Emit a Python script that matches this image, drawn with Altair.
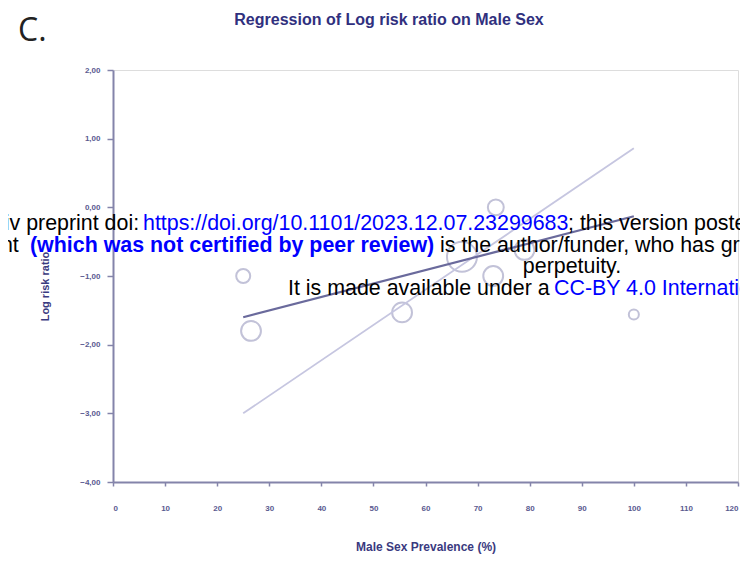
import altair as alt
import pandas as pd

# ---- data ----
male_prev = [25.0, 26.5, 55.5, 67.0, 73.0, 73.5, 79.0, 100.0]
log_rr = [-1.00, -1.80, -1.53, -0.72, -1.00, 0.00, -0.62, -1.56]
study_weight = [3.5, 7.0, 7.0, 16.0, 7.0, 4.5, 7.0, 1.8]

fit_x = [25, 100]
fit_y = [-1.60, -0.13]
band_x = [25, 100]
band_y = [-3.00, 0.86]

x_ticks = list(range(0, 121, 10))
y_ticks = [2.0, 1.5, 1.0, 0.5, 0.0, -0.5, -1.0, -1.5, -2.0, -2.5, -3.0, -3.5, -4.0]

# ---- layout (page pixels) ----
PX0, PY0 = 113, 70
W, H = 625, 412
AX = "#8484aa"
LAB = "#5a5a90"

pts = pd.DataFrame({"male": male_prev, "lrr": log_rr, "w": study_weight})
fit = pd.DataFrame({"male": fit_x, "lrr": fit_y})
band = pd.DataFrame({"male": band_x, "lrr": band_y})

xs = alt.Scale(domain=[0, 120], nice=False, zero=False)
ys = alt.Scale(domain=[-4, 2], nice=False, zero=False)

xaxis = alt.Axis(values=x_ticks, grid=False, labelFontSize=8, labelColor=LAB,
                 labelFontWeight="bold",
                 tickSize=4, tickColor=AX, domainColor=AX, domainWidth=2, tickWidth=1.5,
                 labelPadding=18, title="Male Sex Prevalence (%)", titleFontSize=12,
                 titleFontWeight="bold", titleColor="#3a3a80", titleY=59)
yaxis = alt.Axis(values=y_ticks, grid=False, labelFontSize=8, labelColor=LAB,
                 labelFontWeight="bold",
                 labelExpr="replace(format(datum.value, '.2f'), '.', ',')",
                 tickSize=6, tickColor=AX, domainColor=AX, domainWidth=2, tickWidth=1.5,
                 labelPadding=7, title="Log risk ratio", titleFontSize=11,
                 titleFontWeight="bold", titleColor="#3a3a80", titleX=-63, titleY=216)

circles = alt.Chart(pts).mark_point(shape="circle", filled=False, color="#c2c2d8",
                                    strokeWidth=2, opacity=1).encode(
    x=alt.X("male:Q", scale=xs, axis=xaxis),
    y=alt.Y("lrr:Q", scale=ys, axis=yaxis),
    size=alt.Size("w:Q", scale=alt.Scale(domain=[0, 16], range=[0, 900]), legend=None),
)

band_line = alt.Chart(band).mark_line(color="#c6c6e0", strokeWidth=1.8).encode(
    x=alt.X("male:Q", scale=xs), y=alt.Y("lrr:Q", scale=ys))
fit_line = alt.Chart(fit).mark_line(color="#6a6a9c", strokeWidth=2.2).encode(
    x=alt.X("male:Q", scale=xs), y=alt.Y("lrr:Q", scale=ys))


def txt(s, px, py, color="black", bold=False, align="left", size=21.4,
        font="Liberation Sans", baseline="alphabetic"):
    return alt.Chart(pd.DataFrame({"t": [s]})).mark_text(
        align=align, baseline=baseline, fontSize=size, font=font,
        fontWeight="bold" if bold else "normal", color=color).encode(
        x=alt.value(px - PX0), y=alt.value(py - PY0), text="t:N")


BLUE = "#0000ff"
texts = [
    txt("Regression of Log risk ratio on Male Sex", 389, 20, color="#30307e", bold=True,
        align="center", size=16, baseline="middle"),
    txt("C.", 18, 31, color="#222222", size=32, font="Open Sans", baseline="middle"),
    txt("medRxiv preprint doi:", -63, 230),
    txt("https://doi.org/10.1101/2023.12.07.23299683", 143, 230, color=BLUE),
    txt("; this version posted December 8, 2023. The copyright holder for this preprint", 568, 230),
    txt("this preprint", -93, 252),
    txt("(which was not certified by peer review)", 30, 252, color=BLUE, bold=True),
    txt("is the author/funder, who has granted medRxiv a license to display the preprint in", 440, 252),
    txt("perpetuity.", 572, 273, align="center"),
    txt("It is made available under a", 288, 295),
    txt("CC-BY 4.0 International license.", 554, 295, color=BLUE),
]

chart = alt.layer(circles, band_line, fit_line, *texts).properties(
    width=W, height=H,
    padding={"left": PX0 - 8, "top": PY0 - 8, "right": 2, "bottom": 77},
    autosize=alt.AutoSizeParams(type="none"),
    background="white",
).configure_view(stroke=AX, strokeWidth=2).configure(font="Liberation Sans")

chart.save("out.html", embed_options={"renderer": "svg", "actions": False})
